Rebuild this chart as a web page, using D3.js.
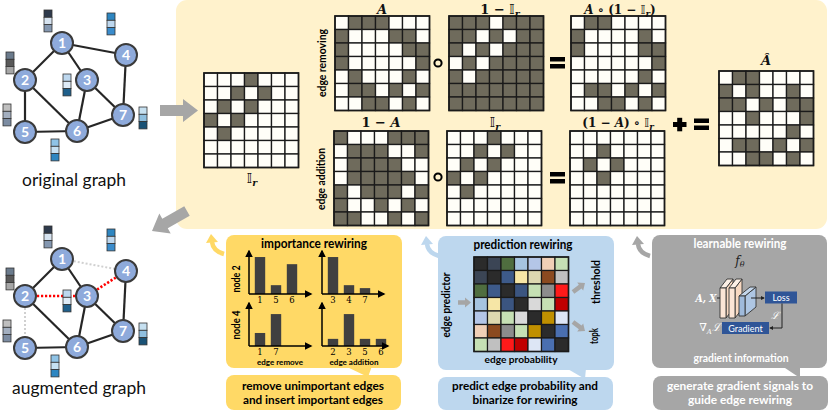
<!DOCTYPE html>
<html><head><meta charset="utf-8">
<script src="https://cdn.jsdelivr.net/npm/d3@7"></script>
<style>body{margin:0;background:#fff} svg{display:block}</style>
</head><body><svg id="c" width="830" height="413"></svg>
<script>
// ---------------- DATA ----------------
const nodeIds = [1, 2, 3, 4, 5, 6, 7];
const edges = [[1,2],[1,3],[1,4],[2,5],[2,6],[3,6],[3,7],[4,7],[5,6],[6,7]];
const rewirePairs = [[1,4],[2,3],[2,5],[3,4]];           // pairs marked in I_r
const featureColors = {
  1: ["#2e3a4c", "#d6e3f0", "#8497b0"],
  2: ["#6b7b8c", "#595959", "#a6a6a6"],
  3: ["#bdd7ee", "#deebf7", "#1f5f8b"],
  4: ["#2e86c1", "#bdd7ee", "#3a8ccc"],
  5: ["#bfbfbf", "#a3afc0", "#7c8ca2"],
  6: ["#8fc3e6", "#c6e1f3", "#2e86c1"],
  7: ["#c6e0f0", "#8fbfdf", "#1a5276"]
};
const impNode2RemoveLabels = ["1", "5", "6"];
const impNode2RemoveValues = [0.88, 0.21, 0.71];
const impNode2AddLabels = ["3", "4", "7"];
const impNode2AddValues = [0.88, 0.21, 0.14];
const impNode4RemoveLabels = ["1", "7"];
const impNode4RemoveValues = [0.31, 0.76];
const impNode4AddLabels = ["2", "3", "5", "6"];
const impNode4AddValues = [0.17, 0.76, 0.17, 0.17];
const edgeProbColors = [
  ["#2b2b2b","#3b4555","#4f6d3f","#a6c4e0","#b4c6e7","#f0cfb6","#c6e0b4"],
  ["#3b4555","#2b2b2b","#3d5a8a","#f6e6a6","#ddd8b0","#8b4a20","#c0c0c0"],
  ["#4f6d3f","#3d5a8a","#2b2b2b","#3b5580","#c6e0b4","#8c8c8c","#ff1a1a"],
  ["#a6c4e0","#f6e6a6","#3b5580","#2b2b2b","#d9d9d9","#c6e0b4","#c00000"],
  ["#b4c6e7","#ddd8b0","#c6e0b4","#d9d9d9","#2b2b2b","#c09000","#dde6f5"],
  ["#f0cfb6","#8b4a20","#8c8c8c","#c6e0b4","#c09000","#2b2b2b","#4a6fb0"],
  ["#c6e0b4","#c0c0c0","#ff1a1a","#c00000","#dde6f5","#4a6fb0","#2b2b2b"]
];

// ---------------- LAYOUT ----------------
const nodePos = {1:[62,43],2:[25,80],3:[87,80],4:[126,55],5:[25,132],6:[77,131],7:[123,115]};
const featPos = {1:[44,10],4:[107,13],2:[6,52],3:[63,74],5:[3,104],7:[139,107],6:[51,139]};
const AUG_DY = 216;

const SANS = "Lato, 'Open Sans', sans-serif";
const SERIF = "'DejaVu Serif', 'Liberation Serif', serif";
const DSFONT = "'DejaVu Sans', 'Noto Sans', sans-serif";
const DARK = "#6f6b5c", LIGHT = "#fffef8";
const C_GOLD = "#ffd966", C_BLUE = "#bdd7ee", C_GRAY = "#a6a6a6", C_PANEL = "#fff2cc";

const svg = d3.select("#c");
svg.append("rect").attr("width", 830).attr("height", 413).attr("fill", "#fff");
const defs = svg.append("defs");
defs.append("marker").attr("id","ah").attr("viewBox","0 0 10 10").attr("refX",8).attr("refY",5)
  .attr("markerWidth",5).attr("markerHeight",5).attr("orient","auto")
  .append("path").attr("d","M0,0L10,5L0,10z").attr("fill","#000");
defs.append("marker").attr("id","ahd").attr("viewBox","0 0 10 10").attr("refX",8).attr("refY",5)
  .attr("markerWidth",4).attr("markerHeight",4).attr("orient","auto")
  .append("path").attr("d","M0,0L10,5L0,10z").attr("fill","#222");

function txt(g, x, y, s, o = {}) {
  const t = g.append("text").attr("x", x).attr("y", y).text(s)
    .attr("font-family", o.family || SANS).attr("font-size", o.size || 12)
    .attr("font-weight", o.weight || "bold").attr("fill", o.fill || "#000")
    .attr("text-anchor", o.anchor || "middle");
  if (o.style) t.attr("font-style", o.style);
  if (o.width) t.attr("textLength", o.width).attr("lengthAdjust", "spacingAndGlyphs");
  if (o.rotate) t.attr("transform", `rotate(${o.rotate},${x},${y})`);
  return t;
}
function mathLabel(g, x, y, parts, size = 13) {
  const t = g.append("text").attr("x", x).attr("y", y).attr("text-anchor", "middle")
    .attr("font-family", SERIF).attr("font-size", size).attr("font-weight", "bold").attr("fill", "#111");
  parts.forEach(p => {
    const ts = t.append("tspan").text(p.t);
    if (p.i) ts.attr("font-style", "italic");
    if (p.ds) ts.attr("font-family", DSFONT).attr("font-weight", "normal").attr("font-size", size * 1.05);
    if (p.sub) ts.attr("font-size", size * 0.72).attr("dy", 3);
    if (p.dy) ts.attr("dy", p.dy);
  });
  return t;
}
function arrowPoly(g, x1, y1, x2, y2, bw, hw, hl, fill) {
  const dx = x2 - x1, dy = y2 - y1, L = Math.hypot(dx, dy);
  const ux = dx / L, uy = dy / L, nx = -uy, ny = ux;
  const P = (a, b) => [x1 + ux * a + nx * b, y1 + uy * a + ny * b];
  const pts = [P(0, -bw/2), P(L - hl, -bw/2), P(L - hl, -hw/2), P(L, 0), P(L - hl, hw/2), P(L - hl, bw/2), P(0, bw/2)];
  g.append("polygon").attr("points", pts.map(p => p.join(",")).join(" ")).attr("fill", fill);
}

// ---------------- MATRICES ----------------
const n = nodeIds.length;
const idx = d3.range(n);
const hasPair = (list, i, j) => list.some(([a, b]) => (a === nodeIds[i] && b === nodeIds[j]) || (b === nodeIds[i] && a === nodeIds[j]));
const A = idx.map(i => idx.map(j => hasPair(edges, i, j) ? 1 : 0));
const Ir = idx.map(i => idx.map(j => hasPair(rewirePairs, i, j) ? 1 : 0));
const oneMinusIr = Ir.map(r => r.map(v => 1 - v));
const oneMinusA = A.map(r => r.map(v => 1 - v));
const remPart = A.map((r, i) => r.map((v, j) => v * oneMinusIr[i][j]));
const addPart = oneMinusA.map((r, i) => r.map((v, j) => v * Ir[i][j]));
const Ahat = remPart.map((r, i) => r.map((v, j) => v + addPart[i][j]));

// ---------------- YELLOW PANEL ----------------
svg.append("rect").attr("x", 176).attr("y", 0).attr("width", 651).attr("height", 229).attr("rx", 11).attr("fill", C_PANEL);

function drawMatrix(M, x0, y0, size, colorFn) {
  const g = svg.append("g").attr("transform", `translate(${x0},${y0})`);
  const s = d3.scaleBand().domain(idx).range([0, size]);
  idx.forEach(i => idx.forEach(j => {
    g.append("rect").attr("x", s(j)).attr("y", s(i)).attr("width", s.bandwidth()).attr("height", s.bandwidth())
      .attr("fill", colorFn(M[i][j])).attr("stroke", "#1a1a1a").attr("stroke-width", 1.3);
  }));
  g.append("rect").attr("width", size).attr("height", size).attr("fill", "none").attr("stroke", "#1a1a1a").attr("stroke-width", 1.6);
  return g;
}
const bin = v => v ? DARK : LIGHT;
const MS = 94.5;
drawMatrix(Ir, 204, 73, MS, bin);
drawMatrix(A, 335, 16, MS, bin);
drawMatrix(oneMinusIr, 449, 16, MS, bin);
drawMatrix(remPart, 571, 16, MS, bin);
drawMatrix(oneMinusA, 334, 131, MS, bin);
drawMatrix(Ir, 447, 131, MS, bin);
drawMatrix(addPart, 570, 131, MS, bin);
drawMatrix(Ahat, 719, 71, MS, bin);

mathLabel(svg, 382, 14, [{t: "A", i: 1}]);
mathLabel(svg, 500, 14, [{t: "1 − "}, {t: "𝕀", ds: 1}, {t: "r", i: 1, sub: 1}]);
mathLabel(svg, 620, 14, [{t: "A", i: 1}, {t: " ∘ (1 − "}, {t: "𝕀", ds: 1}, {t: "r", i: 1, sub: 1}, {t: ")", dy: -3}], 12);
mathLabel(svg, 766, 65, [{t: "Â", i: 1}]);
mathLabel(svg, 252, 183, [{t: "𝕀", ds: 1}, {t: "r", i: 1, sub: 1}]);
mathLabel(svg, 381, 127, [{t: "1 − "}, {t: "A", i: 1}]);
mathLabel(svg, 495, 127, [{t: "𝕀", ds: 1}, {t: "r", i: 1, sub: 1}]);
mathLabel(svg, 618, 127, [{t: "(1 − "}, {t: "A", i: 1}, {t: ") ∘ "}, {t: "𝕀", ds: 1}, {t: "r", i: 1, sub: 1}], 12);

txt(svg, 326, 63, "edge removing", {size: 10.5, width: 68, rotate: -90});
txt(svg, 325, 179, "edge addition", {size: 10.5, width: 62, rotate: -90});

[[438, 63], [438, 177]].forEach(([x, y]) =>
  svg.append("circle").attr("cx", x).attr("cy", y).attr("r", 3.6).attr("fill", "none").attr("stroke", "#000").attr("stroke-width", 2));
function eqSign(x, y) {
  svg.append("rect").attr("x", x).attr("y", y).attr("width", 15).attr("height", 4.5).attr("fill", "#000");
  svg.append("rect").attr("x", x).attr("y", y + 7).attr("width", 15).attr("height", 4.5).attr("fill", "#000");
}
eqSign(550, 57); eqSign(550, 172); eqSign(694, 118.5);
svg.append("rect").attr("x", 673).attr("y", 122).attr("width", 13.5).attr("height", 5).attr("fill", "#000");
svg.append("rect").attr("x", 677.2).attr("y", 117.8).attr("width", 5).attr("height", 13.5).attr("fill", "#000");

// big gray arrows
arrowPoly(svg, 160, 110.5, 198, 110.5, 11, 23, 15, C_GRAY);
arrowPoly(svg, 187, 211, 152, 231, 11, 23, 15, C_GRAY);

// ---------------- GRAPHS ----------------
function drawGraph(dy, augmented) {
  const g = svg.append("g").attr("transform", `translate(0,${dy})`);
  const line = (a, b) => g.append("line").attr("x1", nodePos[a][0]).attr("y1", nodePos[a][1]).attr("x2", nodePos[b][0]).attr("y2", nodePos[b][1]);
  const isRewire = (a, b) => rewirePairs.some(([p, q]) => (p === a && q === b) || (p === b && q === a));
  edges.forEach(([a, b]) => {
    if (augmented && isRewire(a, b)) line(a, b).attr("stroke", "#d0d0d0").attr("stroke-width", 2).attr("stroke-dasharray", "2,2");
    else line(a, b).attr("stroke", "#262626").attr("stroke-width", 2.2);
  });
  if (augmented) {
    const isEdge = (a, b) => edges.some(([p, q]) => (p === a && q === b) || (p === b && q === a));
    rewirePairs.filter(([a, b]) => !isEdge(a, b)).forEach(([a, b]) =>
      line(a, b).attr("stroke", "#ff0000").attr("stroke-width", 2.6).attr("stroke-dasharray", "2.2,1.8"));
  }
  nodeIds.forEach(id => {
    const [fx, fy] = featPos[id];
    featureColors[id].forEach((c, k) =>
      g.append("rect").attr("x", fx).attr("y", fy + k * 7.3).attr("width", 8).attr("height", 7.3)
        .attr("fill", c).attr("stroke", "#333").attr("stroke-width", 0.8));
  });
  nodeIds.forEach(id => {
    const [x, y] = nodePos[id];
    g.append("circle").attr("cx", x).attr("cy", y).attr("r", 11).attr("fill", "#8eaadb").attr("stroke", "#3a3a3a").attr("stroke-width", 2);
    txt(g, x, y + 5, String(id), {size: 14, fill: "#fff"});
  });
}
drawGraph(0, false);
drawGraph(AUG_DY, true);
txt(svg, 74, 186, "original graph", {size: 16.5, weight: "normal", width: 104, fill: "#111"});
txt(svg, 79, 394, "augmented graph", {size: 16.5, weight: "normal", width: 134, fill: "#111"});

// ---------------- SUB PANELS ----------------
function panel(x, y, w, h, fill) {
  svg.append("rect").attr("x", x).attr("y", y).attr("width", w).attr("height", h).attr("rx", 8).attr("fill", fill);
}
function curvedArrow(x0, y0, fill) {
  svg.append("path").attr("d", `M${x0 + 14},${y0 + 18} Q${x0 + 3},${y0 + 15} ${x0 + 2},${y0 + 6}`)
    .attr("fill", "none").attr("stroke", fill).attr("stroke-width", 4.5);
  svg.append("polygon").attr("points", `${x0 - 4},${y0 + 7} ${x0 + 8},${y0 + 6} ${x0 + 1},${y0 - 2}`).attr("fill", fill);
}
// importance
panel(226, 235, 176, 133, C_GOLD);
panel(226, 375, 175, 35, C_GOLD);
svg.append("polygon").attr("points", "345,366 372,366 368,377").attr("fill", C_GOLD);
curvedArrow(210, 236, C_GOLD);
// prediction
panel(438, 236, 176, 134, C_BLUE);
panel(438, 377, 175, 33, C_BLUE);
svg.append("polygon").attr("points", "566,368 586,368 585,379").attr("fill", C_BLUE);
curvedArrow(425, 238, C_BLUE);
// learnable
panel(652, 235, 175, 133, C_GRAY);
panel(653, 376, 175, 34, C_GRAY);
svg.append("polygon").attr("points", "782,366 800,366 800,378").attr("fill", C_GRAY);
curvedArrow(636, 238, C_GRAY);

// ---------- importance rewiring ----------
txt(svg, 314, 248, "importance rewiring", {size: 12.5, width: 106});
txt(svg, 313, 390, "remove unimportant edges", {size: 11, width: 142});
txt(svg, 313, 404, "and insert important edges", {size: 11, width: 140});
txt(svg, 240, 279, "node 2", {size: 11, width: 27, rotate: -90});
txt(svg, 240, 325, "node 4", {size: 11, width: 29, rotate: -90});
txt(svg, 280, 365, "edge remove", {size: 8, width: 46});
txt(svg, 354, 365, "edge addition", {size: 8, width: 49});

function barChart(ax, base, labels, values, axLen) {
  const g = svg.append("g");
  const x = d3.scaleBand().domain(labels).range([ax + 3, ax + 3 + 16 * labels.length]).paddingInner(0.35).paddingOuter(0.175);
  const y = d3.scaleLinear().domain([0, 1]).range([base, base - 42]);
  labels.forEach((l, i) => {
    g.append("rect").attr("x", x(l)).attr("y", y(values[i])).attr("width", x.bandwidth()).attr("height", base - y(values[i])).attr("fill", "#404040");
    txt(g, x(l) + x.bandwidth() / 2, base + 9, l, {family: SERIF, weight: "normal", size: 8.5});
  });
  g.append("line").attr("x1", ax).attr("y1", base).attr("x2", ax).attr("y2", base - 43).attr("stroke", "#000").attr("stroke-width", 1.5).attr("marker-end", "url(#ah)");
  g.append("line").attr("x1", ax).attr("y1", base).attr("x2", ax + axLen).attr("y2", base).attr("stroke", "#000").attr("stroke-width", 1.5).attr("marker-end", "url(#ah)");
}
barChart(249, 294, impNode2RemoveLabels, impNode2RemoveValues, 62);
barChart(322, 294, impNode2AddLabels, impNode2AddValues, 62);
barChart(249, 346, impNode4RemoveLabels, impNode4RemoveValues, 62);
barChart(322, 346, impNode4AddLabels, impNode4AddValues, 66);

// ---------- prediction rewiring ----------
txt(svg, 523, 249, "prediction rewiring", {size: 12.5, width: 99});
txt(svg, 525, 390, "predict edge probability and", {size: 11, width: 146});
txt(svg, 525, 404, "binarize for rewiring", {size: 11, width: 105});
txt(svg, 521, 363, "edge probability", {size: 10, width: 73});
txt(svg, 450, 305, "edge predictor", {size: 10.5, width: 65, rotate: -90});
txt(svg, 600, 282, "threshold", {size: 10.5, width: 44, rotate: -90});
txt(svg, 598, 336, "topk", {size: 10.5, width: 16, rotate: -90});
{
  const g = svg.append("g").attr("transform", "translate(474,257)");
  const s = d3.scaleBand().domain(idx).range([0, MS]);
  idx.forEach(i => idx.forEach(j =>
    g.append("rect").attr("x", s(j)).attr("y", s(i)).attr("width", s.bandwidth()).attr("height", s.bandwidth())
      .attr("fill", edgeProbColors[i][j]).attr("stroke", "#1a1a1a").attr("stroke-width", 1.2)));
  g.append("rect").attr("width", MS).attr("height", MS).attr("fill", "none").attr("stroke", "#1a1a1a").attr("stroke-width", 1.5);
}
arrowPoly(svg, 458, 302.5, 471, 302.5, 4.5, 10, 6, C_GRAY);
arrowPoly(svg, 573, 292, 585, 283, 4.5, 10, 6, C_GRAY);
arrowPoly(svg, 573, 322, 585, 331, 4.5, 10, 6, C_GRAY);

// ---------- learnable rewiring ----------
txt(svg, 740, 248, "learnable rewiring", {size: 12.5, width: 93, fill: "#fff"});
txt(svg, 741, 362, "gradient information", {size: 11, width: 95, fill: "#fff"});
txt(svg, 740, 390, "generate gradient signals to", {size: 11, width: 146, fill: "#fff"});
txt(svg, 740, 404, "guide edge rewiring", {size: 11, width: 104, fill: "#fff"});
svg.append("text").attr("x", 740).attr("y", 265).attr("text-anchor", "middle").attr("font-family", SERIF)
  .attr("font-style", "italic").attr("font-size", 12).attr("fill", "#222")
  .call(t => { t.append("tspan").text("f"); t.append("tspan").text("θ").attr("font-size", 8).attr("dy", 2); });
txt(svg, 706, 302, "A, X", {family: SERIF, style: "italic", size: 11, weight: "bold", fill: "#fff", width: 21});
svg.append("text").attr("x", 710).attr("y", 331).attr("text-anchor", "middle").attr("font-family", SERIF)
  .attr("font-style", "italic").attr("font-size", 11).attr("fill", "#fff")
  .call(t => { t.append("tspan").text("∇").attr("font-style", "normal"); t.append("tspan").text("A").attr("font-size", 7).attr("dy", 3); t.append("tspan").text("ℒ").attr("dy", -3); });
txt(svg, 775, 319, "ℒ", {family: SERIF, style: "italic", size: 10, weight: "normal", fill: "#fff"});

function prism(x0, y0, w, h, dx, dy, front, top, side) {
  const g = svg.append("g").attr("stroke", "#333").attr("stroke-width", 0.9).attr("stroke-linejoin", "round");
  g.append("polygon").attr("points", `${x0 + w},${y0} ${x0 + w + dx},${y0 - dy} ${x0 + w + dx},${y0 + h - dy} ${x0 + w},${y0 + h}`).attr("fill", side);
  g.append("polygon").attr("points", `${x0},${y0} ${x0 + dx},${y0 - dy} ${x0 + w + dx},${y0 - dy} ${x0 + w},${y0}`).attr("fill", top);
  g.append("rect").attr("x", x0).attr("y", y0).attr("width", w).attr("height", h).attr("fill", front);
}
svg.append("line").attr("x1", 717).attr("y1", 298).attr("x2", 721).attr("y2", 298).attr("stroke", "#222").attr("stroke-width", 1);
prism(720, 288, 6, 30, 7, 9, "#fbe5d6", "#fdf0e6", "#f8d9c2");
prism(729, 288, 6, 30, 7, 9, "#fbe5d6", "#fdf0e6", "#f8d9c2");
prism(739, 296, 6, 20, 11, 9, "#9fbadb", "#c3d5ea", "#aec6e3");
svg.append("line").attr("x1", 751).attr("y1", 298).attr("x2", 764).attr("y2", 298).attr("stroke", "#222").attr("stroke-width", 1).attr("marker-end", "url(#ahd)");
svg.append("rect").attr("x", 765).attr("y", 291.5).attr("width", 32).attr("height", 12).attr("fill", "#2f5597");
txt(svg, 781, 301, "Loss", {size: 9, weight: "normal", fill: "#fff"});
svg.append("rect").attr("x", 722).attr("y", 322).attr("width", 47).attr("height", 12).attr("fill", "#2f5597");
txt(svg, 745.5, 331.5, "Gradient", {size: 9, weight: "normal", fill: "#fff"});
svg.append("path").attr("d", "M782,303.5 V328 H770").attr("fill", "none").attr("stroke", "#222").attr("stroke-width", 1).attr("marker-end", "url(#ahd)");
</script></body></html>
